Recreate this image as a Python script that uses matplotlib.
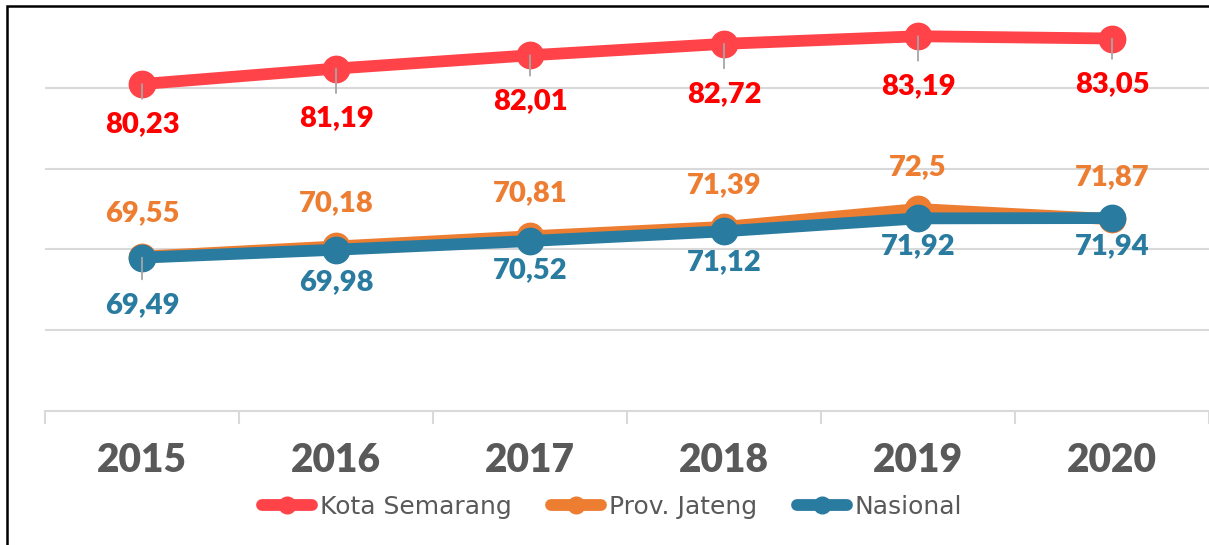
import matplotlib
matplotlib.use("Agg")
import matplotlib.pyplot as plt
from matplotlib.patches import Rectangle
from matplotlib.ticker import FixedLocator

years = ['2015', '2016', '2017', '2018', '2019', '2020']
kota = [80.23, 81.19, 82.01, 82.72, 83.19, 83.05]
jateng = [69.55, 70.18, 70.81, 71.39, 72.5, 71.87]
nasional = [69.49, 69.98, 70.52, 71.12, 71.92, 71.94]
series_names = ['Kota Semarang', 'Prov. Jateng', 'Nasional']

# label placement (offsets in points from each point, Excel-like)
kota_dy = [-29, -36, -33, -36, -36, -33]
jateng_dy = [31, 31, 31, 30, 30, 30]
nasional_dy = [-34, -23, -21, -22, -20, -20]
kota_leader = [True] * 6
jateng_leader = [False] * 6
nasional_leader = [True, False, False, False, False, False]

c_red_line = '#FF4349'
c_red_txt = '#FF0000'
c_orange = '#ED7D31'
c_blue = '#2A7BA0'
c_grid = '#D9D9D9'
c_text = '#595959'
font = 'Lato'

fig = plt.figure(figsize=(12.09, 5.45), dpi=100)
ax = fig.add_axes([45/1209, (545-411)/545, 1 - 45/1209, (411-7)/545])

x = list(range(len(years)))
lw = 8.5
ms = 19
for vals, col, name, z in [(kota, c_red_line, series_names[0], 3),
                           (jateng, c_orange, series_names[1], 3),
                           (nasional, c_blue, series_names[2], 4)]:
    ax.plot(x, vals, color=col, lw=lw, marker='o', ms=ms, label=name,
            solid_capstyle='round', solid_joinstyle='round', zorder=z)

def fmt(v):
    s = ('%.2f' % v).rstrip('0').rstrip('.')
    return s.replace('.', ',')

def lab(vals, dys, leaders, color):
    for i, (v, dy, ld) in enumerate(zip(vals, dys, leaders)):
        kw = {}
        if ld:
            kw['arrowprops'] = dict(arrowstyle='-', color='#A6A6A6', lw=1.3,
                                    shrinkA=7, shrinkB=0)
        ax.annotate(fmt(v), (i, v), xytext=(0, dy), textcoords='offset points',
                    ha='center', va='center', color=color, fontsize=21,
                    fontweight='heavy', family=font, zorder=6, **kw)

lab(kota, kota_dy, kota_leader, c_red_txt)
lab(jateng, jateng_dy, jateng_leader, c_orange)
lab(nasional, nasional_dy, nasional_leader, c_blue)

ax.set_ylim(60, 85)
ax.set_xlim(-0.5, 5.5)
ax.set_yticks([65, 70, 75, 80])
ax.yaxis.grid(True, color=c_grid, lw=1.5)
ax.set_axisbelow(True)
ax.tick_params(axis='y', left=False, labelleft=False)
for s in ['left', 'right', 'top']:
    ax.spines[s].set_visible(False)
ax.spines['bottom'].set_color(c_grid)
ax.spines['bottom'].set_linewidth(1.5)

ax.set_xticks(x)
ax.set_xticklabels(years, fontsize=28, fontweight='heavy', color=c_text, family=font)
ax.tick_params(axis='x', which='major', length=0, pad=22)
ax.xaxis.set_minor_locator(FixedLocator([i - 0.5 for i in range(len(years) + 1)]))
ax.tick_params(axis='x', which='minor', length=9, width=1.5, color=c_grid)

leg = fig.legend(loc='center', bbox_to_anchor=(612/1209, 1 - 507/545), ncol=3,
                 frameon=False, handlelength=2.0, handletextpad=0.3,
                 columnspacing=1.6, markerscale=12/19,
                 prop={'family': 'DejaVu Sans', 'size': 18})
for t in leg.get_texts():
    t.set_color(c_text)
for h in leg.legend_handles:
    h.set_linewidth(8.5)

fig.patches.append(Rectangle((7/1209, -0.1), 1.2, 1.1 - 6/545, transform=fig.transFigure,
                             fill=False, edgecolor='black', lw=1.8, zorder=10))

fig.savefig('out.png', dpi=100)
